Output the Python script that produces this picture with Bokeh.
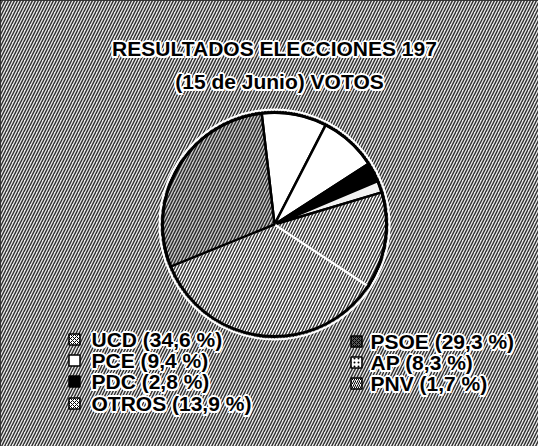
import numpy as np
from bokeh.plotting import figure
from bokeh.models import Range1d, ColumnDataSource
from bokeh.core.properties import value
from bokeh.embed import file_html
from bokeh.resources import INLINE

# --- data (clockwise from top of the pie) ---
parties = ["PCE", "AP", "PDC", "PNV", "OTROS", "UCD", "PSOE"]
shares = [9.4, 8.3, 2.8, 1.7, 13.9, 34.6, 29.3]
title_lines = ["RESULTADOS ELECCIONES 197", "(15 de Junio) VOTOS"]
legend_left = ["UCD", "PCE", "PDC", "OTROS"]
legend_right = ["PSOE", "AP", "PNV"]

# --- styles ---
fill = {"PCE": "white", "AP": "white", "PDC": "black", "PNV": "#f2f2f2",
        "OTROS": "white", "UCD": "white", "PSOE": "#c8c8c8"}
hatch = {"PCE": " ", "AP": " ", "PDC": " ", "PNV": " ",
         "OTROS": "/", "UCD": "/", "PSOE": "/"}
edge = {"PCE": "black", "AP": "black", "PDC": "black", "PNV": "black",
        "OTROS": "black", "UCD": "white", "PSOE": "black"}
box_hatch = {"UCD": "x", "PCE": " ", "PDC": " ", "OTROS": "x",
             "PSOE": "x", "AP": ".", "PNV": "/"}
box_fill = {"UCD": "white", "PCE": "white", "PDC": "black", "OTROS": "white",
            "PSOE": "#555555", "AP": "white", "PNV": "white"}

W, H = 538, 446
HS, HW = 6, 1.4
p = figure(width=W, height=H, x_range=Range1d(0, W), y_range=Range1d(0, H),
           min_border=0, toolbar_location=None, output_backend="svg",
           x_axis_location=None, y_axis_location=None)
p.grid.visible = False
p.outline_line_color = "black"
p.outline_line_width = 3
p.background_fill_color = "white"

# hatched paper background
p.quad(left=[0], right=[W], bottom=[0], top=[H], fill_color="#e8e8e8",
       line_color=None, hatch_pattern="/", hatch_color="black",
       hatch_scale=HS, hatch_weight=HW, hatch_alpha=0.8)

# --- pie ---
cx, cy, r = 274, 446 - 224, 112
start_deg = 96.6
cum = np.cumsum([0] + shares)
ends = np.radians(start_deg - cum[:-1] * 3.6)
starts = np.radians(start_deg - cum[1:] * 3.6)
src = ColumnDataSource(dict(
    party=parties, start=starts, end=ends,
    fill=[fill[k] for k in parties], hatch=[hatch[k] for k in parties],
    edge=[edge[k] for k in parties],
))
p.wedge(x=cx, y=cy, radius=r, start_angle="start", end_angle="end",
        fill_color="fill", hatch_pattern="hatch", hatch_color="black",
        hatch_scale=HS, hatch_weight=HW, hatch_alpha=0.8,
        line_color="edge", line_width=2.5, source=src)
p.circle(x=[cx], y=[cy], radius=r, fill_color=None, line_color="black",
         line_width=3)
p.circle(x=[cx], y=[cy], radius=r + 3, fill_color=None, line_color="white",
         line_width=2)


def halo_text(xs, ys, texts, size, align="left"):
    for dx, dy in [(-2, 0), (2, 0), (0, -2), (0, 2), (-1.5, -1.5),
                   (1.5, 1.5), (-1.5, 1.5), (1.5, -1.5)]:
        p.text(x=xs, y=ys, text=texts, x_offset=dx, y_offset=dy,
               text_color="white", text_font=value("Liberation Sans"),
               text_font_style="bold", text_font_size=size,
               text_align=align, text_baseline="middle")
    p.text(x=xs, y=ys, text=texts, text_color="black",
           text_font=value("Liberation Sans"), text_font_style="bold",
           text_font_size=size, text_align=align, text_baseline="middle")


# --- title ---
halo_text([274, 279], [446 - 48, 446 - 81], title_lines, "21px", "center")

# --- legend ---
share_of = dict(zip(parties, shares))


def label(k):
    return f"{k} ({share_of[k]:.1f} %)".replace(".", ",")


def legend_col(keys, bx, tx, tops):
    ys = [446 - t for t in tops]
    p.rect(x=[bx] * len(keys), y=ys, width=11, height=11,
           fill_color=[box_fill[k] for k in keys],
           hatch_pattern=[box_hatch[k] for k in keys], hatch_color="black",
           hatch_scale=4, line_color="black", line_width=1.5)
    halo_text([tx] * len(keys), ys, [label(k) for k in keys], "21px")


legend_col(legend_left, 74, 91, [339, 360, 381, 403])
legend_col(legend_right, 356, 370, [341, 362, 383])

open("out.html", "w").write(file_html(p, INLINE))
